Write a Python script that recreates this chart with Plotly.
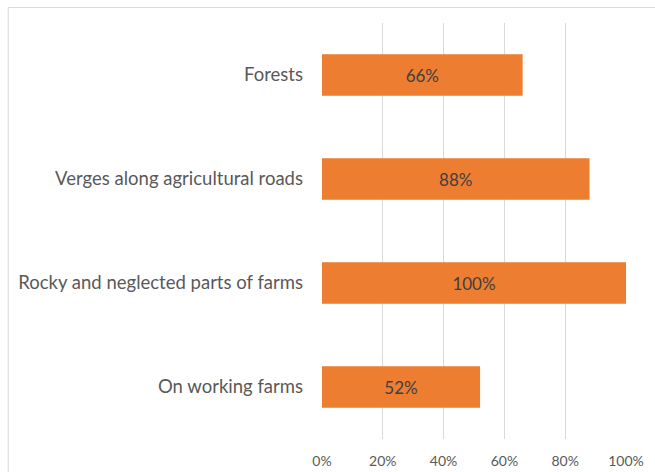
import plotly.graph_objects as go

categories = ["On working farms", "Rocky and neglected parts of farms",
              "Verges along agricultural roads", "Forests"]
values = [52, 100, 88, 66]
tick_vals = [0, 20, 40, 60, 80, 100]
tick_text = ["0%", "20%", "40%", "60%", "80%", "100%"]

W, H = 655, 472
L, R = 321.5, 625.7
T, B = 23, 439.5
pw, ph = R - L, B - T

fig = go.Figure(go.Bar(
    y=categories, x=values, orientation="h",
    marker=dict(color="#ED7D31", line=dict(width=0)),
    text=[f"{v}%" for v in values],
    textposition="inside", insidetextanchor="middle",
    textfont=dict(family="Lato", size=17, color="#404040"),
    hoverinfo="skip",
))

fx = lambda px: (px - L) / pw
fy = lambda py: (B - py) / ph

fig.update_layout(
    template="none",
    width=W, height=H,
    margin=dict(l=L, r=W - R, t=T, b=H - B, pad=0),
    paper_bgcolor="white", plot_bgcolor="white",
    bargap=0.6, showlegend=False,
    font=dict(family="Lato", color="#595959"),
    xaxis=dict(range=[0, 100], tickvals=tick_vals, ticktext=tick_text,
               showgrid=True, gridcolor="#d9d9d9", gridwidth=1,
               zeroline=False, showline=False, ticks="", automargin=False,
               tickfont=dict(size=14, color="#595959"),
               ticklabelstandoff=12, fixedrange=True),
    yaxis=dict(showgrid=False, zeroline=False, showline=False, ticks="",
               automargin=False,
               tickfont=dict(size=18.5, color="#595959"),
               ticklabelstandoff=18, fixedrange=True),
    shapes=[
        dict(type="line", xref="paper", yref="paper",
             x0=fx(7.5), x1=fx(700), y0=fy(7.5), y1=fy(7.5),
             line=dict(color="#d9d9d9", width=1)),
        dict(type="line", xref="paper", yref="paper",
             x0=fx(7.5), x1=fx(7.5), y0=fy(7.5), y1=fy(520),
             line=dict(color="#d9d9d9", width=1)),
    ],
)

fig.write_html("out.html")
